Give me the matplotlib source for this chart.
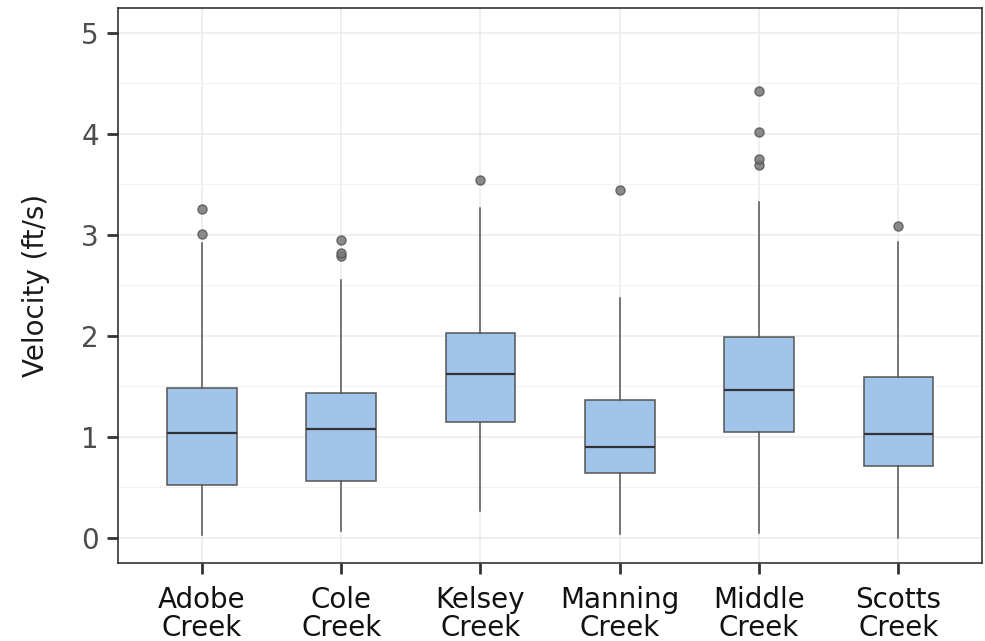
import matplotlib as mpl
mpl.use('Agg')
import matplotlib.pyplot as plt
from matplotlib.ticker import MultipleLocator

# summary stats per creek (ft/s)
creeks = ['Adobe\nCreek', 'Cole\nCreek', 'Kelsey\nCreek', 'Manning\nCreek', 'Middle\nCreek', 'Scotts\nCreek']
whislo = [0.03, 0.07, 0.26, 0.04, 0.05, 0.00]
q1 = [0.525, 0.56, 1.146, 0.64, 1.05, 0.713]
med = [1.04, 1.08, 1.617, 0.898, 1.465, 1.03]
q3 = [1.485, 1.43, 2.027, 1.366, 1.99, 1.594]
whishi = [2.92, 2.555, 3.27, 2.37, 3.32, 2.93]
fliers = [[3.01, 3.26],
          [2.79, 2.82, 2.95],
          [3.54],
          [3.445],
          [3.69, 3.75, 4.02, 4.42],
          [3.09]]

stats = []
for i in range(len(creeks)):
	stats.append({'whislo': whislo[i], 'q1': q1[i], 'med': med[i], 'q3': q3[i],
				  'whishi': whishi[i], 'fliers': fliers[i], 'label': creeks[i]})

plt.rcParams['font.family'] = 'DejaVu Sans'
fig, ax = plt.subplots(figsize=(9.85, 6.41), dpi=100)
fig.subplots_adjust(left=0.12, right=0.997, top=0.988, bottom=0.122)

ax.set_axisbelow(True)
ax.yaxis.set_major_locator(MultipleLocator(1))
ax.yaxis.set_minor_locator(MultipleLocator(0.5))
ax.grid(True, which='major', color='#ebebeb', lw=1.1)
ax.grid(True, which='minor', axis='y', color='#f2f2f2', lw=0.8)

ax.bxp(stats, positions=range(1, 7), widths=0.5, patch_artist=True,
	   boxprops=dict(facecolor='#a1c5ea', edgecolor='#555555', lw=1.1),
	   medianprops=dict(color='#333333', lw=1.6),
	   whiskerprops=dict(color='#555555', lw=1.1),
	   capprops=dict(visible=False),
	   flierprops=dict(marker='o', markersize=6.5, markerfacecolor='#777777',
					   markeredgecolor='#555555', alpha=0.85, lw=0))

ax.set_xlim(0.4, 6.6)
ax.set_ylim(-0.25, 5.25)
ax.set_ylabel('Velocity (ft/s)', fontsize=20, color='#1a1a1a', labelpad=22)
ax.tick_params(axis='y', which='major', labelsize=20, labelcolor='#4d4d4d',
			   length=8, width=2, color='#333333', pad=6)
ax.tick_params(axis='y', which='minor', length=0)
ax.tick_params(axis='x', labelsize=20, labelcolor='#111111',
			   length=8, width=2, color='#333333', pad=9)
for s in ax.spines.values():
	s.set_color('#333333')
	s.set_linewidth(1.2)
for t in ax.get_xticklabels():
	t.set_linespacing(1.0)

plt.savefig('out.png', dpi=100)
